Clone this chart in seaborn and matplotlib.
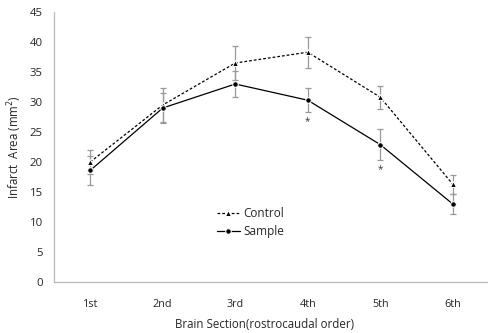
import numpy as np
import pandas as pd
import matplotlib
matplotlib.use("Agg")
import matplotlib.pyplot as plt
import seaborn as sns

sections = ["1st", "2nd", "3rd", "4th", "5th", "6th"]
control = [20.0, 29.5, 36.5, 38.3, 30.8, 16.3]
control_err = [2.0, 2.8, 2.9, 2.6, 1.9, 1.6]
sample = [18.6, 29.0, 33.0, 30.3, 22.9, 13.0]
sample_err = [2.4, 2.5, 2.2, 2.0, 2.6, 1.6]
star_sections = ["4th", "5th"]
star_y = [26.7, 18.8]

sns.set_style("white")
plt.rcParams['font.family'] = ['Open Sans', 'DejaVu Sans']

fig = plt.figure(figsize=(4.89, 3.33), dpi=100)
ax = fig.add_axes([54/489, 1-282/333, 1-54/489, 270/333])

pos = np.arange(len(sections))
df = pd.DataFrame({
    "x": np.concatenate([pos, pos]),
    "y": control + sample,
    "group": ["Control"]*6 + ["Sample"]*6,
})

ax.errorbar(pos, control, yerr=control_err, fmt='none', ecolor='#999999',
            elinewidth=0.9, capsize=2.5, capthick=0.9, zorder=1)
ax.errorbar(pos, sample, yerr=sample_err, fmt='none', ecolor='#999999',
            elinewidth=0.9, capsize=2.5, capthick=0.9, zorder=1)

sns.lineplot(data=df, x="x", y="y", hue="group", style="group",
             palette={"Control": "black", "Sample": "black"},
             dashes={"Control": (2.2, 1.6), "Sample": ""},
             markers={"Control": "^", "Sample": "o"},
             markersize=4, linewidth=0.9, ax=ax, zorder=3)

for s, yv in zip(star_sections, star_y):
    ax.text(sections.index(s), yv, "*", ha='center', va='center', fontsize=7, color='#333333')

ax.set_xlim(-0.5, 5.5)
ax.set_ylim(0, 45)
ax.set_yticks(np.arange(0, 46, 5))
ax.set_xticks(pos)
ax.set_xticklabels(sections)
ax.set_xticks(np.arange(0.5, 5, 1), minor=True)
ax.tick_params(axis='x', which='major', length=0, labelsize=7.8, pad=12)
ax.tick_params(axis='x', which='minor', length=3, color='#bbbbbb', direction='out')
ax.tick_params(axis='y', length=3, color='#bbbbbb', labelsize=8.2, direction='out', pad=5)
for sp in ["top", "right"]:
    ax.spines[sp].set_visible(False)
for sp in ["left", "bottom"]:
    ax.spines[sp].set_color('#bbbbbb')
    ax.spines[sp].set_linewidth(0.9)

ax.set_xlabel("Brain Section(rostrocaudal order)", fontsize=8.3)
ax.xaxis.set_label_coords(0.485, -0.135)
ax.set_ylabel("Infarct  Area (mm$^2$)", fontsize=8.3)
ax.yaxis.set_label_coords(-0.068, 0.5)

handles, labels = ax.get_legend_handles_labels()
leg = ax.legend(handles, labels, loc='upper left', bbox_to_anchor=(0.36, 0.30),
                frameon=False, fontsize=8.5, handlelength=2.0, handletextpad=0.3,
                labelspacing=0.45, borderpad=0)

fig.savefig("out.png", dpi=100)
